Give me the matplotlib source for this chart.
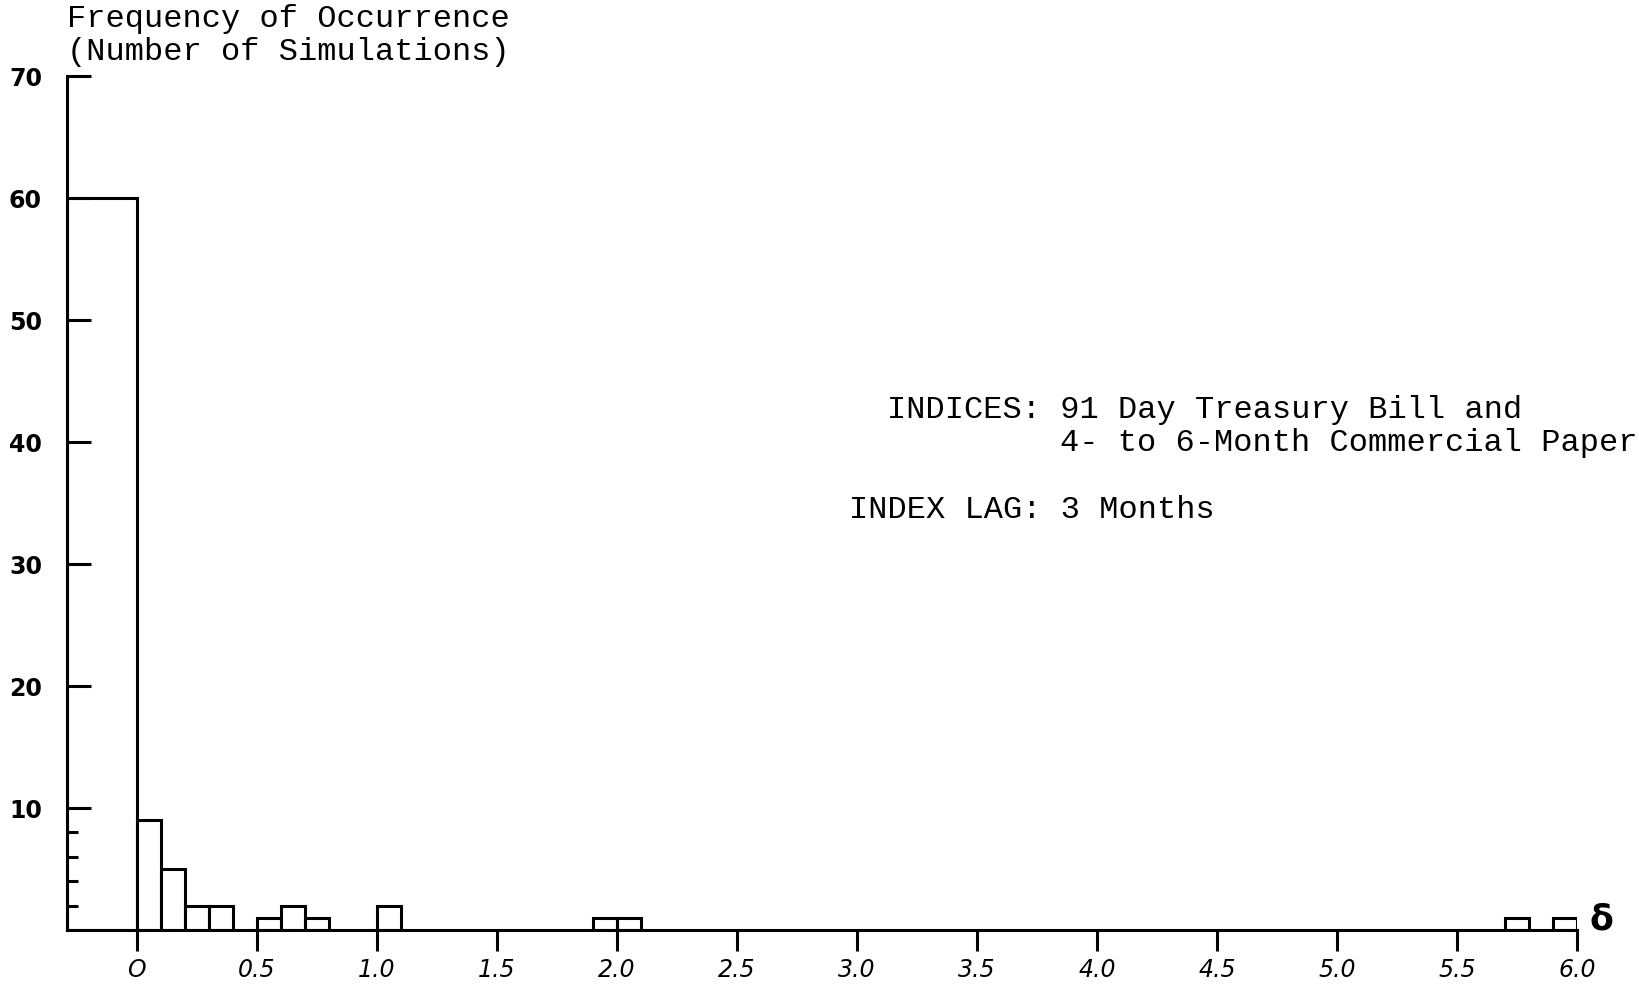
import matplotlib
matplotlib.use("Agg")
import matplotlib.pyplot as plt
import numpy as np

# Histogram data (bin width 0.1)
bin_left = [0.0, 0.1, 0.2, 0.3, 0.5, 0.6, 0.7, 1.0, 1.9, 2.0, 5.7, 5.9]
counts = [9, 5, 2, 2, 1, 2, 1, 2, 1, 1, 1, 1]
zero_count = 60          # tall bar for delta = 0
bin_width = 0.1

x_ticks = [0, 0.5, 1.0, 1.5, 2.0, 2.5, 3.0, 3.5, 4.0, 4.5, 5.0, 5.5, 6.0]
x_labels = ["O", "0.5", "1.0", "1.5", "2.0", "2.5", "3.0", "3.5", "4.0", "4.5", "5.0", "5.5", "6.0"]
y_ticks = [10, 20, 30, 40, 50, 60, 70]
y_minor = [2, 4, 6, 8]

x_left = -0.29

fig = plt.figure(figsize=(16.4, 9.85), dpi=100)
ax = fig.add_axes([67 / 1640, 55 / 985, (1577 - 67) / 1640, (930 - 76) / 985])

# the delta = 0 bar runs from the y axis to zero
ax.bar(x_left, zero_count, width=-x_left, align='edge', fill=False,
       edgecolor='black', linewidth=2.2)
ax.bar(bin_left, counts, width=bin_width, align='edge', fill=False,
       edgecolor='black', linewidth=2.2)

ax.set_xlim(x_left, 6.0)
ax.set_ylim(0, 70)

for side in ['top', 'right']:
    ax.spines[side].set_visible(False)
for side in ['left', 'bottom']:
    ax.spines[side].set_linewidth(2.2)

ax.set_xticks(x_ticks)
ax.set_xticklabels(x_labels, fontsize=17, style='italic', family='DejaVu Sans')
ax.tick_params(axis='x', direction='out', length=15, width=2.2, pad=5)

ax.set_yticks(y_ticks)
ax.set_yticks(y_minor, minor=True)
ax.set_yticklabels([str(v) for v in y_ticks], fontsize=17, fontweight='bold')
ax.tick_params(axis='y', which='major', direction='in', length=17, width=2.2, pad=18)
ax.tick_params(axis='y', which='minor', direction='in', length=8, width=2.2)

ax.text(6.05, 0.9, "δ", fontsize=25, fontweight='bold', va='center', ha='left', clip_on=False)

mono = 'Liberation Mono'
fig.text(67 / 1640, 1 - 19 / 985, "Frequency of Occurrence", family=mono, fontsize=23, va='center')
fig.text(67 / 1640, 1 - 52 / 985, "(Number of Simulations)", family=mono, fontsize=23, va='center')

fig.text(887 / 1640, 1 - 410 / 985, "INDICES: 91 Day Treasury Bill and", family=mono, fontsize=23, va='center')
fig.text(1060 / 1640, 1 - 443 / 985, "4- to 6-Month Commercial Paper", family=mono, fontsize=23, va='center')
fig.text(849 / 1640, 1 - 510 / 985, "INDEX LAG: 3 Months", family=mono, fontsize=23, va='center')

fig.savefig("out.png", dpi=100)
